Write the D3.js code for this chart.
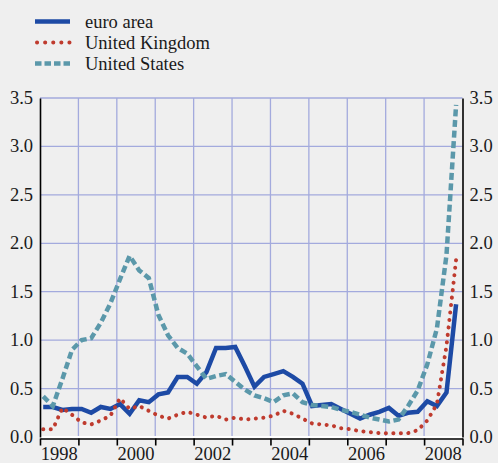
<!DOCTYPE html>
<html lang="en">
  <head>
    <meta charset="UTF-8" />
    <title>Spreads: euro area, United Kingdom, United States</title>
    <style>
      body { margin: 0; background: #efefef; }
      svg { display: block; }
    </style>
  </head>
  <body>
    <script src="https://cdn.jsdelivr.net/npm/d3@7/dist/d3.min.js"></script>
    <script>

      // quarterly observations, 1998Q1 - 2008Q4
      var quarters = [
        "1998Q1","1998Q2","1998Q3","1998Q4","1999Q1","1999Q2","1999Q3","1999Q4",
        "2000Q1","2000Q2","2000Q3","2000Q4","2001Q1","2001Q2","2001Q3","2001Q4",
        "2002Q1","2002Q2","2002Q3","2002Q4","2003Q1","2003Q2","2003Q3","2003Q4",
        "2004Q1","2004Q2","2004Q3","2004Q4","2005Q1","2005Q2","2005Q3","2005Q4",
        "2006Q1","2006Q2","2006Q3","2006Q4","2007Q1","2007Q2","2007Q3","2007Q4",
        "2008Q1","2008Q2","2008Q3","2008Q4"
      ];

      var euroArea = [
        0.31, 0.31, 0.28, 0.29, 0.29, 0.25, 0.31, 0.29,
        0.34, 0.24, 0.38, 0.36, 0.44, 0.46, 0.62, 0.62,
        0.55, 0.67, 0.92, 0.92, 0.93, 0.73, 0.52, 0.62,
        0.65, 0.68, 0.62, 0.55, 0.32, 0.33, 0.34, 0.29,
        0.24, 0.19, 0.23, 0.26, 0.30, 0.22, 0.25, 0.26,
        0.37, 0.32, 0.46, 1.37
      ];

      var unitedKingdom = [
        0.08, 0.08, 0.30, 0.23, 0.15, 0.13, 0.17, 0.22,
        0.40, 0.29, 0.32, 0.27, 0.22, 0.19, 0.23, 0.26,
        0.23, 0.20, 0.22, 0.18, 0.20, 0.18, 0.19, 0.20,
        0.22, 0.27, 0.24, 0.19, 0.14, 0.13, 0.12, 0.09,
        0.08, 0.06, 0.05, 0.04, 0.04, 0.04, 0.04, 0.07,
        0.17, 0.34, 0.94, 1.83
      ];

      var unitedStates = [
        0.42, 0.32, 0.60, 0.90, 1.00, 1.02, 1.18, 1.38,
        1.63, 1.87, 1.72, 1.64, 1.26, 1.05, 0.92, 0.86,
        0.73, 0.60, 0.63, 0.65, 0.57, 0.49, 0.43, 0.40,
        0.36, 0.43, 0.45, 0.36, 0.33, 0.32, 0.31, 0.28,
        0.26, 0.23, 0.20, 0.18, 0.16, 0.18, 0.32, 0.48,
        0.75, 1.12, 1.88, 3.43
      ];

      var yearLabels = [1998, 2000, 2002, 2004, 2006, 2008];
      var yTicks = [0, 0.5, 1.0, 1.5, 2.0, 2.5, 3.0, 3.5];

      var series = [
        { name: "euro area", values: euroArea, color: "#1d4aa5", width: 4.5, dash: null, cap: "butt" },
        { name: "United Kingdom", values: unitedKingdom, color: "#bf3b2e", width: 4, dash: "0.1,7.4", cap: "round" },
        { name: "United States", values: unitedStates, color: "#5b98aa", width: 4.5, dash: "7,3.6", cap: "butt" }
      ];

      var serif = "'Liberation Serif', 'Times New Roman', Times, serif";

      var w = 498,
          h = 463;

      var margin = { top: 98, right: 35.5, bottom: 26, left: 40 };

      var svg = d3.select("body").append("svg")
        .attr("width", w)
        .attr("height", h);

      svg.append("rect")
        .attr("width", w)
        .attr("height", h)
        .attr("fill", "#efefef");

      // "1998Q3" -> position inside the year
      function quarterTime(q) {
        return +q.slice(0, 4) + (+q.slice(5) - 1) / 4 + 1 / 12;
      }

      function serifText(sel) {
        sel.style("font-family", serif)
           .style("font-size", "18.5px")
           .attr("fill", "#1a1a1a");
      }

      var xScale = d3.scaleLinear()
        .domain([1998, 2009])
        .range([margin.left, w - margin.right]);

      var yScale = d3.scaleLinear()
        .domain([0, 3.5])
        .range([h - margin.bottom, margin.top]);

      // grid
      var grid = svg.append("g");

      grid.selectAll(".vgrid")
        .data(d3.range(1999, 2009))
        .enter()
        .append("line")
        .attr("x1", function(d) { return xScale(d); })
        .attr("x2", function(d) { return xScale(d); })
        .attr("y1", yScale(3.5))
        .attr("y2", yScale(0))
        .attr("stroke", "#a3aadd")
        .attr("stroke-width", 1.3);

      grid.selectAll(".hgrid")
        .data(yTicks.filter(function(d) { return d > 0; }))
        .enter()
        .append("line")
        .attr("x1", xScale(1998))
        .attr("x2", xScale(2009))
        .attr("y1", function(d) { return yScale(d); })
        .attr("y2", function(d) { return yScale(d); })
        .attr("stroke", "#a3aadd")
        .attr("stroke-width", 1.3);

      // zero line is white
      grid.append("line")
        .attr("x1", xScale(1998))
        .attr("x2", xScale(2009))
        .attr("y1", yScale(0))
        .attr("y2", yScale(0))
        .attr("stroke", "#ffffff")
        .attr("stroke-width", 2);

      // the data lines
      var line = d3.line()
        .x(function(d, i) { return xScale(quarterTime(quarters[i])); })
        .y(function(d) { return yScale(d); });

      series.forEach(function(s) {
        svg.append("path")
          .datum(s.values)
          .attr("d", line)
          .attr("fill", "none")
          .attr("stroke", s.color)
          .attr("stroke-width", s.width)
          .attr("stroke-linecap", s.cap)
          .attr("stroke-linejoin", "miter")
          .attr("stroke-dasharray", s.dash);
      });

      // axes
      var leftAxis = d3.axisLeft(yScale)
        .tickValues(yTicks)
        .tickSize(0)
        .tickFormat(d3.format(".1f"));

      var rightAxis = d3.axisRight(yScale)
        .tickValues(yTicks)
        .tickSize(0)
        .tickFormat(d3.format(".1f"));

      function styleYAxis(g, dx) {
        g.attr("font-family", null).attr("font-size", null);
        g.select(".domain").attr("stroke", "#000").attr("stroke-width", 1.6);
        g.selectAll("text")
          .attr("x", dx)
          .attr("dy", "0.3em")
          .call(serifText);
      }

      svg.append("g")
        .attr("transform", "translate(" + margin.left + ",0)")
        .call(leftAxis)
        .call(styleYAxis, -7);

      svg.append("g")
        .attr("transform", "translate(" + (w - margin.right) + ",0)")
        .call(rightAxis)
        .call(styleYAxis, 7);

      var xAxis = d3.axisBottom(xScale)
        .tickValues(d3.range(1998, 2010))
        .tickSize(7)
        .tickSizeOuter(0)
        .tickFormat("");

      svg.append("g")
        .attr("transform", "translate(0," + (h - margin.bottom + 1.5) + ")")
        .call(xAxis)
        .call(function(g) {
          g.select(".domain").attr("stroke", "#000").attr("stroke-width", 1.6);
          g.selectAll("line").attr("stroke", "#000").attr("stroke-width", 1.6);
        });

      // year labels sit in the middle of each year
      svg.selectAll(".year-label")
        .data(yearLabels)
        .enter()
        .append("text")
        .attr("x", function(d) { return xScale(d + 0.5); })
        .attr("y", h - 3)
        .attr("text-anchor", "middle")
        .call(serifText)
        .text(function(d) { return d; });

      // legend
      var legend = svg.selectAll(".legend")
        .data(series)
        .enter()
        .append("g")
        .attr("transform", function(d, i) { return "translate(35," + (21.5 + i * 21) + ")"; });

      legend.append("line")
        .attr("x1", function(d) { return d.cap === "round" ? 2 : 0; })
        .attr("x2", 35)
        .attr("stroke", function(d) { return d.color; })
        .attr("stroke-width", function(d) { return d.width; })
        .attr("stroke-linecap", function(d) { return d.cap; })
        .attr("stroke-dasharray", function(d) { return d.dash === null ? null : (d.cap === "round" ? "0.1,8" : "6.5,3"); });

      legend.append("text")
        .attr("x", 50)
        .attr("y", 6)
        .call(serifText)
        .text(function(d) { return d.name; });

    </script>
  </body>
</html>
